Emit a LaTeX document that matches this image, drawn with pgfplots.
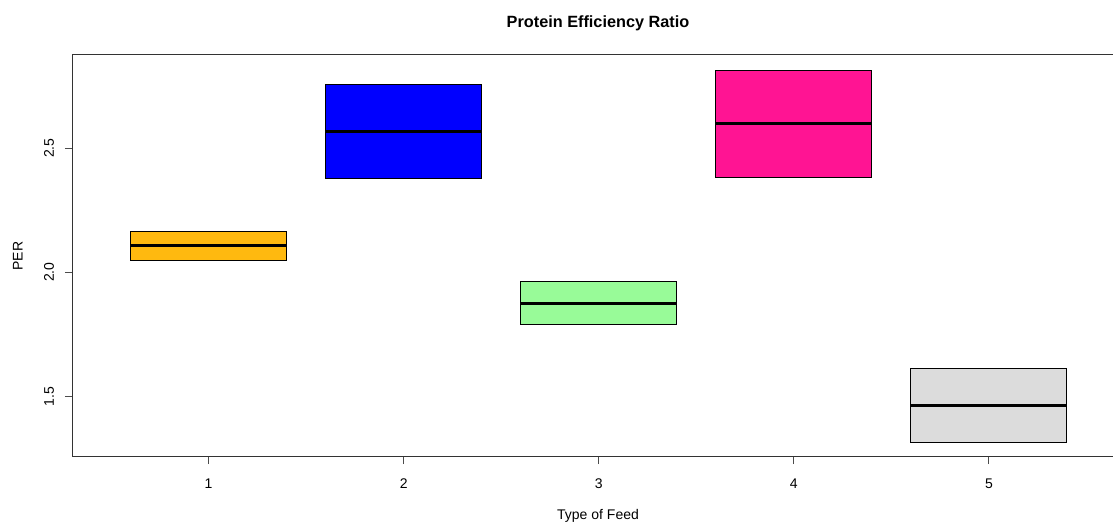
\documentclass[border=0pt]{standalone}
\usepackage{fontspec}
\setmainfont{Liberation Sans}
\usepackage{pgfplots}
\pgfplotsset{compat=1.18}
\usepgfplotslibrary{statistics}

\definecolor{feedA}{RGB}{255,185,15}
\definecolor{feedB}{RGB}{0,0,255}
\definecolor{feedC}{RGB}{152,251,152}
\definecolor{feedD}{RGB}{255,20,147}
\definecolor{feedE}{RGB}{220,220,220}

\pgfplotsset{
  perbox/.style={draw=black, line width=0.75pt,
    boxplot/every median/.style={line width=2.25pt}},
}

\begin{document}
\begin{tikzpicture}
\path[use as bounding box] (0,0) rectangle (834.75pt,392.25pt);
\begin{axis}[
  at={(54pt,49.5pt)}, anchor=south west,
  scale only axis, width=790.125pt, height=301.5pt,
  xmin=0.3, xmax=5.7, ymin=1.256, ymax=2.875,
  xtick={1,2,3,4,5},
  ytick={1.5,2.0,2.5}, yticklabels={1.5,2.0,2.5},
  xtick pos=left, ytick pos=left,
  tick align=outside, major tick length=5.4pt,
  every tick/.style={black!70, line width=0.75pt},
  axis line style={black!80, line width=0.75pt},
  font=\fontsize{10.5}{12}\selectfont,
  /pgf/number format/assume math mode=true,
  xticklabel style={anchor=base, yshift=-18.25pt},
  yticklabel style={xshift=-8.1pt, rotate=90, anchor=base},
  boxplot/draw direction=y,
  title={Protein Efficiency Ratio},
  xlabel={Type of Feed}, ylabel={PER},
  every axis title/.style={at={(axis description cs:0.4993,1.0672)}, anchor=base,
    font=\bfseries\fontsize{12.2}{14}\selectfont},
  every axis x label/.style={at={(axis description cs:0.4993,-0.1567)}, anchor=base},
  every axis y label/.style={at={(axis description cs:-0.0468,0.5)}, rotate=90, anchor=base},
]
\addplot[perbox, fill=feedA, boxplot prepared={draw position=1,
  lower whisker=2.048, lower quartile=2.048, median=2.107,
  upper quartile=2.163, upper whisker=2.163, box extend=0.8}] coordinates {};
\addplot[perbox, fill=feedB, boxplot prepared={draw position=2,
  lower whisker=2.379, lower quartile=2.379, median=2.567,
  upper quartile=2.755, upper whisker=2.755, box extend=0.8}] coordinates {};
\addplot[perbox, fill=feedC, boxplot prepared={draw position=3,
  lower whisker=1.788, lower quartile=1.788, median=1.876,
  upper quartile=1.961, upper whisker=1.961, box extend=0.8}] coordinates {};
\addplot[perbox, fill=feedD, boxplot prepared={draw position=4,
  lower whisker=2.383, lower quartile=2.383, median=2.598,
  upper quartile=2.811, upper whisker=2.811, box extend=0.8}] coordinates {};
\addplot[perbox, fill=feedE, boxplot prepared={draw position=5,
  lower whisker=1.315, lower quartile=1.315, median=1.463,
  upper quartile=1.611, upper whisker=1.611, box extend=0.8}] coordinates {};
\end{axis}
\end{tikzpicture}
\end{document}
